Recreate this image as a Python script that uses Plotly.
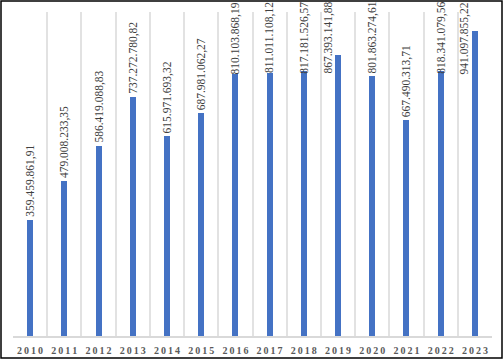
import plotly.graph_objects as go

years = ["2010", "2011", "2012", "2013", "2014", "2015", "2016",
         "2017", "2018", "2019", "2020", "2021", "2022", "2023"]
values = [359459861.91, 479008233.35, 586419088.83, 737272780.82,
          615971693.32, 687981062.27, 810103868.19, 811011108.12,
          817181526.57, 867393141.88, 801863274.61, 667490313.71,
          818341079.56, 941097855.22]
labels = ["359.459.861,91", "479.008.233,35", "586.419.088,83",
          "737.272.780,82", "615.971.693,32", "687.981.062,27",
          "810.103.868,19", "811.011.108,12", "817.181.526,57",
          "867.393.141,88", "801.863.274,61", "667.490.313,71",
          "818.341.079,56", "941.097.855,22"]
tick_text = ["\u2009".join(y) for y in years]

W, H = 504, 360
ML, MR, MT, MB = 13, 12, 12, 24
YMAX = 1e9
plot_h = H - MT - MB
LABEL_LEN = 70
BAR_W = 0.175

fig = go.Figure(go.Bar(
    x=years, y=values, marker_color="#4472C4", width=BAR_W,
    marker_line_width=0, hoverinfo="skip"))

annotations = []
for i, (v, lab) in enumerate(zip(values, labels)):
    bar_top = MT + plot_h * (1 - v / YMAX)
    base = dict(x=i, xref="x", text=lab, textangle=-90, showarrow=False,
                font=dict(family="Liberation Serif", size=11.5, color="#404040"),
                borderpad=0)
    if bar_top - 3 - LABEL_LEN >= 1:
        annotations.append(dict(base, y=v, yref="y", yanchor="bottom",
                                xanchor="center", yshift=2))
    elif bar_top >= 66:
        annotations.append(dict(base, y=1, yref="paper", yanchor="top",
                                xanchor="center", yshift=MT - 1))
    else:
        annotations.append(dict(base, y=1, yref="paper", yanchor="top",
                                xanchor="right", xshift=-3, yshift=MT - 1))

fig.update_layout(
    width=W, height=H,
    margin=dict(l=ML, r=MR, t=MT, b=MB, autoexpand=False),
    paper_bgcolor="white", plot_bgcolor="white",
    showlegend=False,
    bargap=0,
    annotations=annotations,
    xaxis=dict(type="category", range=[-0.5, len(years) - 0.5],
               tickmode="array", tickvals=years,
               ticktext=tick_text, tickson="boundaries", tickangle=0,
               automargin=False, ticklabelstandoff=4,
               showgrid=True, gridcolor="#E2E2E2", gridwidth=1.5,
               showline=True, linecolor="#D9D9D9", linewidth=1.5,
               ticks="", tickfont=dict(family="Liberation Serif", size=10,
                                       color="#595959", weight="bold"),
               fixedrange=True),
    yaxis=dict(range=[0, YMAX], visible=False, showgrid=False,
               zeroline=False, fixedrange=True, automargin=False),
    shapes=[dict(type="rect", xref="paper", yref="paper",
                 x0=-(ML - 1) / (W - ML - MR), x1=1 + (MR - 2) / (W - ML - MR),
                 y0=-(MB - 2) / plot_h, y1=1 + (MT - 1) / plot_h,
                 line=dict(color="black", width=1.5), layer="above")],
)

fig.write_html("out.html", config={"displayModeBar": False},
               post_script="document.body.style.margin='0';"
                           "document.body.style.padding='0';")
